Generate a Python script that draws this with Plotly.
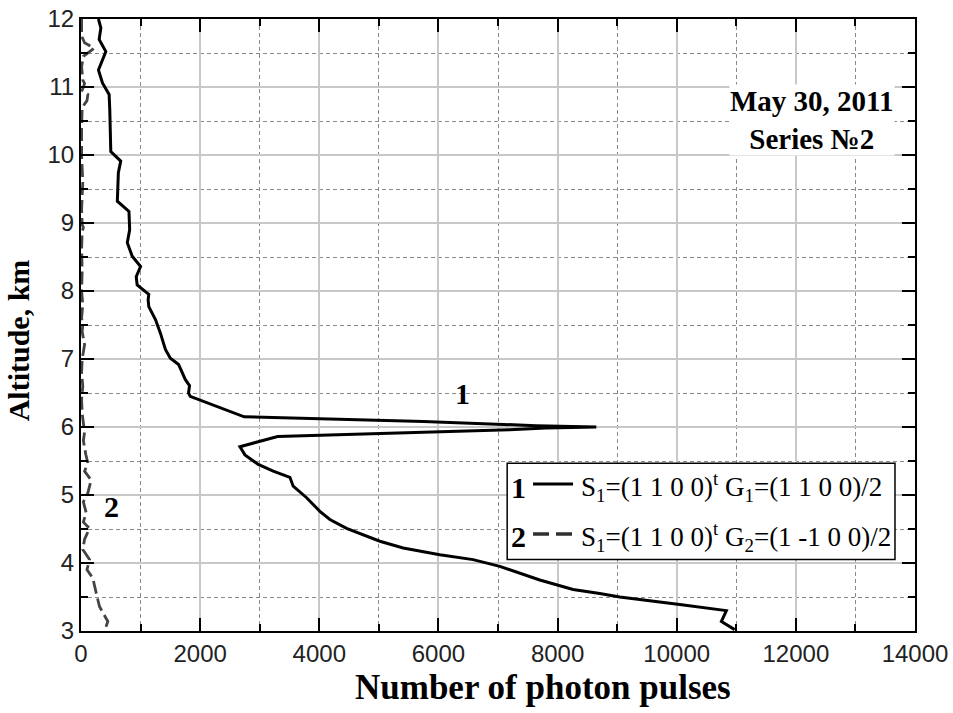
import plotly.graph_objects as go

# Series 1: S1=(1 1 0 0)^t G1=(1 1 0 0)/2
alt1 = [12.0, 11.87, 11.70, 11.52, 11.25, 11.06, 10.89, 10.67, 10.05, 9.91, 9.74, 9.32, 9.17, 8.90,
        8.71, 8.51, 8.36, 8.21, 8.09, 7.95, 7.87, 7.77, 7.58, 7.38, 7.14, 7.01, 6.92, 6.82, 6.70,
        6.61, 6.50, 6.45, 6.15, 6.08, 6.02, 6.00, 5.985, 5.96, 5.86, 5.82, 5.71, 5.59, 5.45, 5.35,
        5.26, 5.13, 4.96, 4.76, 4.64, 4.51, 4.32, 4.22, 4.15, 4.12, 4.05, 3.95, 3.75, 3.61, 3.55,
        3.50, 3.39, 3.30, 3.14, 3.02]
pulses1 = [293, 333, 305, 417, 293, 360, 472, 483, 500, 667, 627, 610, 805, 817,
           777, 860, 1000, 927, 943, 1138, 1127, 1138, 1250, 1333, 1417, 1500, 1638, 1693, 1750,
           1822, 1805, 1833, 2740, 5750, 7638, 8650, 7805, 7193, 3300, 3130, 2668, 2752, 2975, 3227,
           3507, 3562, 3787, 4010, 4178, 4458, 5017, 5408, 5856, 6023, 6582, 7030, 7701, 8260, 8708,
           9044, 10050, 10834, 10750, 10973]

# Series 2: S1=(1 1 0 0)^t G2=(1 -1 0 0)/2
alt2 = [12.0, 11.75, 11.65, 11.57, 11.45, 11.30, 11.10, 11.05, 10.95, 10.89, 10.80, 10.70, 10.40,
        10.00, 9.60, 9.20, 8.98, 8.93, 8.88, 8.60, 8.30, 8.00, 7.80, 7.60, 7.50, 7.40, 7.21, 7.00,
        6.80, 6.60, 6.40, 6.20, 5.92, 5.80, 5.60, 5.47, 5.35, 5.22, 5.03, 4.90, 4.74, 4.60, 4.51,
        4.35, 4.20, 4.05, 3.90, 3.78, 3.56, 3.36, 3.14, 3.00]
pulses2 = [10, 10, 60, 220, 40, 10, 30, 60, 20, 115, 100, 20, 10,
           10, 30, 10, 20, 40, 20, 10, 20, 10, 30, 10, 30, 20, 60, 20,
           10, 30, 10, 20, 60, 40, 80, 115, 60, 170, 115, 40, 87, 40, 143,
           60, 30, 143, 100, 198, 255, 310, 450, 395]

x_ticks = [0, 2000, 4000, 6000, 8000, 10000, 12000, 14000]
x_tick_labels = ["0", "2000", "4000", "6000", "8000", "10000", "12000", "14000"]
y_ticks = [3, 4, 5, 6, 7, 8, 9, 10, 11, 12]
y_tick_labels = ["3", "4", "5", "6", "7", "8", "9", "10", "11", "12"]

x_title = "Number of photon pulses"
y_title = "Altitude, km"
legend1 = "S<sub>1</sub>=(1 1 0 0)<sup>t</sup> G<sub>1</sub>=(1 1 0 0)/2"
legend2 = "S<sub>1</sub>=(1 1 0 0)<sup>t</sup> G<sub>2</sub>=(1 -1 0 0)/2"

SERIF = "Liberation Serif"
SANS = "Liberation Sans"

fig = go.Figure()
fig.add_trace(go.Scatter(x=pulses2, y=alt2, mode="lines", name=legend2,
                         line=dict(color="#444444", width=2.8, dash="13px,5px"), showlegend=False))
fig.add_trace(go.Scatter(x=pulses1, y=alt1, mode="lines", name=legend1,
                         line=dict(color="black", width=3), showlegend=False))

axis_common = dict(
    showline=True, linecolor="black", linewidth=2, mirror="ticks",
    ticks="inside", ticklen=13, tickwidth=2, tickcolor="black",
    showgrid=True, gridcolor="#c8c8c8", gridwidth=1.5,
    zeroline=False, automargin=False,
    tickfont=dict(family=SANS, size=24, color="#222222"),
)

fig.update_xaxes(range=[0, 14000], tickvals=x_ticks, ticktext=x_tick_labels,
                 minor=dict(dtick=1000, ticks="inside", ticklen=7, tickwidth=1.5, tickcolor="black",
                            showgrid=True, gridcolor="#8a8a8a", griddash="4px,3px", gridwidth=1),
                 ticklabelstandoff=0,
                 **axis_common)
fig.update_yaxes(range=[3, 12], tickvals=y_ticks, ticktext=y_tick_labels,
                 minor=dict(dtick=0.5, ticks="inside", ticklen=7, tickwidth=1.5, tickcolor="black",
                            showgrid=True, gridcolor="#8a8a8a", griddash="4px,3px", gridwidth=1),
                 ticklabelstandoff=0,
                 **axis_common)

annotations = [
    # axis titles
    dict(x=0.554, y=-0.0923, xref="paper", yref="paper", text=f"<b>{x_title}</b>", showarrow=False,
         xanchor="center", yanchor="middle",
         font=dict(family=SERIF, size=35, color="black")),
    dict(x=-0.0755, y=0.475, xref="paper", yref="paper", text=f"<b>{y_title}</b>", showarrow=False,
         xanchor="center", yanchor="middle", textangle=-90,
         font=dict(family=SERIF, size=30, color="black")),
    # curve labels
    dict(x=6400, y=6.5, xref="x", yref="y", text="<b>1</b>", showarrow=False,
         xanchor="center", yanchor="middle",
         font=dict(family=SERIF, size=30, color="black")),
    dict(x=512, y=4.83, xref="x", yref="y", text="<b>2</b>", showarrow=False,
         xanchor="center", yanchor="middle",
         font=dict(family=SERIF, size=30, color="black")),
    dict(x=0.876, y=0.835, xref="paper", yref="paper",
         text="<b>May 30, 2011<br>Series №2</b>", showarrow=False,
         xanchor="center", yanchor="middle",
         font=dict(family=SERIF, size=29, color="black"), bgcolor="white", borderpad=0),
    # legend
    dict(x=0.524, y=0.2345, xref="paper", yref="paper", text="<b>1</b>", showarrow=False,
         xanchor="center", yanchor="middle",
         font=dict(family=SERIF, size=30, color="black")),
    dict(x=0.524, y=0.1544, xref="paper", yref="paper", text="<b>2</b>", showarrow=False,
         xanchor="center", yanchor="middle",
         font=dict(family=SERIF, size=30, color="black")),
    dict(x=0.597, y=0.2345, xref="paper", yref="paper", text=legend1, showarrow=False,
         xanchor="left", yanchor="middle", font=dict(family=SERIF, size=27, color="black")),
    dict(x=0.597, y=0.1544, xref="paper", yref="paper", text=legend2, showarrow=False,
         xanchor="left", yanchor="middle", font=dict(family=SERIF, size=27, color="black")),
]

shapes = [
    dict(type="rect", xref="paper", yref="paper", x0=0.511, x1=0.976, y0=0.117, y1=0.274,
         line=dict(color="black", width=1.5), fillcolor="white", layer="above"),
    dict(type="line", xref="paper", yref="paper", x0=0.542, x1=0.590, y0=0.24, y1=0.24,
         line=dict(color="black", width=3), layer="above"),
    dict(type="line", xref="paper", yref="paper", x0=0.542, x1=0.590, y0=0.1585, y1=0.1585,
         line=dict(color="#303030", width=3.5, dash="16px,7px"), layer="above"),
]

fig.update_layout(
    width=953, height=713,
    margin=dict(l=81, r=38, t=19, b=82, autoexpand=False),
    paper_bgcolor="white", plot_bgcolor="white",
    annotations=annotations, shapes=shapes,
    showlegend=False,
)

fig.write_html("out.html", config={"displayModeBar": False},
               post_script="document.body.style.margin='0';document.body.style.overflow='hidden';")
